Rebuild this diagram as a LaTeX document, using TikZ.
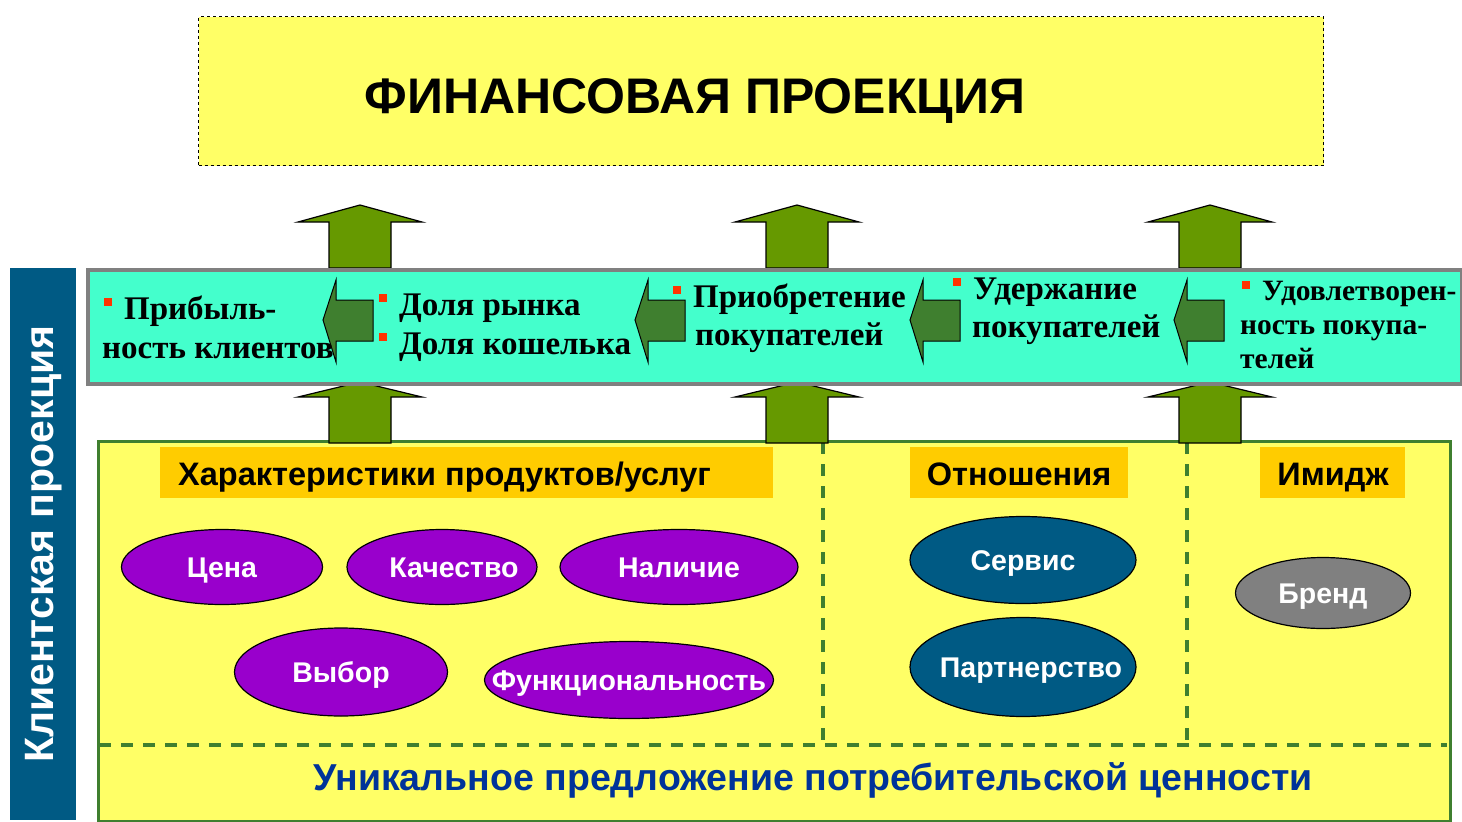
\documentclass[tikz,border=0pt]{standalone}
\usepackage{fontspec}
\setmainfont{Liberation Sans}
\newfontfamily\bandfont{Liberation Serif}
\usepackage{tikz}
\usetikzlibrary{shapes.geometric}

\definecolor{titleyellow}{HTML}{FFFF66}
\definecolor{bandcyan}{HTML}{44FFCC}
\definecolor{bandgrey}{HTML}{808080}
\definecolor{arrowgreen}{HTML}{669900}
\definecolor{darkarrow}{HTML}{3F7F2F}
\definecolor{boxgreen}{HTML}{3F7F2F}
\definecolor{tagorange}{HTML}{FFCC00}
\definecolor{ovalpurple}{HTML}{9900CC}
\definecolor{ovalblue}{HTML}{005A84}
\definecolor{ovalgrey}{HTML}{808080}
\definecolor{barblue}{HTML}{005A84}
\definecolor{valueblue}{HTML}{003399}
\definecolor{bulletred}{HTML}{FF3300}

\newcommand{\blt}{{\color{bulletred}\rule[0.38em]{8pt}{8pt}}\hspace{12pt}}
\newcommand{\ctr}[1]{\makebox[0pt]{#1}}

\begin{document}
\begin{tikzpicture}[x=1pt,y=-1pt,
    uparr/.style={draw=black, line width=1.2pt, fill=arrowgreen},
    leftarr/.style={draw=black, line width=1pt, fill=darkarrow},
    bandtext/.style={anchor=base west, inner sep=0, font=\bandfont\bfseries\fontsize{33}{38}\selectfont},
    smalltext/.style={anchor=base west, inner sep=0, font=\bandfont\bfseries\fontsize{29.5}{34}\selectfont},
    oval/.style={ellipse, draw=black, line width=1.2pt, text=white, inner sep=0, text height=20.5pt, text depth=0pt, font=\bfseries\fontsize{28.5}{30}\selectfont},
    tag/.style={fill=tagorange, inner sep=0, minimum height=51},
    tagtext/.style={anchor=base, inner sep=0, font=\bfseries\fontsize{32.5}{36}\selectfont},
    split/.style={draw=boxgreen, line width=3.5pt, dash pattern=on 12pt off 10pt}
  ]
    \useasboundingbox (0,0) rectangle (1462,822);

    % financial perspective
    \node[draw, dashed, line width=1pt, fill=titleyellow, minimum width=1125, minimum height=149, anchor=north west, inner sep=0] (fin) at (198,16) {};
    \node[anchor=base, inner sep=0, font=\bfseries\fontsize{50}{56}\selectfont] (fintext) at (695,113) {ФИНАНСОВАЯ ПРОЕКЦИЯ};

    % customer perspective bar
    \node[fill=barblue, minimum width=66, minimum height=552, anchor=north west, inner sep=0] (bar) at (10,268) {};
    \node[rotate=90, text=white, font=\bfseries\fontsize{41}{46}\selectfont] (bartext) at (bar.center) {Клиентская проекция};

    % value proposition box
    \node[draw=boxgreen, line width=3pt, fill=titleyellow, minimum width=1352, minimum height=380, anchor=north west, inner sep=0] (vp) at (97,440) {};
    \draw[split] (823,442) -- (823,745);
    \draw[split] (1187,442) -- (1187,745);
    \draw[split] (99,745) -- (1447,745);

    % up arrows
    \foreach \x in {360,797,1210}{
      \draw[uparr] (\x-31,268) -- (\x-31,222) -- (\x-62,222) -- (\x,205) -- (\x+62,222) -- (\x+31,222) -- (\x+31,268) -- cycle;
      \draw[uparr] (\x-31,443) -- (\x-31,397) -- (\x-62,397) -- (\x,382) -- (\x+62,397) -- (\x+31,397) -- (\x+31,443) -- cycle;
    }

    % customer band
    \node[draw=bandgrey, line width=4pt, fill=bandcyan, minimum width=1374, minimum height=114, anchor=north west, inner sep=0] (band) at (86,268) {};

    \foreach \t in {323,635,910,1174}
      \draw[leftarr] (\t,320) -- (\t+13,280) -- (\t+13,300) -- (\t+50,300) -- (\t+50,341) -- (\t+13,341) -- (\t+13,362) -- cycle;

    \node[bandtext] (prof1) at (104,319) {\blt Прибыль-};
    \node[bandtext] (prof2) at (102,358) {ность клиентов};
    \node[bandtext] (share1) at (379,315) {\blt Доля рынка};
    \node[bandtext] (share2) at (379,354) {\blt Доля кошелька};
    \node[bandtext] (acq1) at (673,307) {\blt Приобретение};
    \node[bandtext] (acq2) at (695,345) {покупателей};
    \node[bandtext] (ret1) at (953,299) {\blt Удержание};
    \node[bandtext] (ret2) at (972,337) {покупателей};
    \node[smalltext] (sat1) at (1242,300) {\blt Удовлетворен-};
    \node[smalltext] (sat2) at (1240,334) {ность покупа-};
    \node[smalltext] (sat3) at (1240,368) {телей};

    % attribute headers
    \node[tag, minimum width=613, anchor=north west] (attr) at (160,447) {};
    \node[tag, minimum width=218, anchor=north west] (rel) at (910,447) {};
    \node[tag, minimum width=145, anchor=north west] (img) at (1260,447) {};
    \node[tagtext, anchor=base west] (attrtext) at (178,485) {Характеристики продуктов/услуг};
    \node[tagtext] (reltext) at (1019,485) {Отношения};
    \node[tagtext] (imgtext) at (1333,485) {Имидж};

    % attributes
    \node[oval, fill=ovalpurple, minimum width=201, minimum height=75] (price) at (222,567) {\ctr{Цена}};
    \node[oval, fill=ovalpurple, minimum width=190, minimum height=75] (quality) at (442,567) {\ctr{\hspace{24pt}Качество}};
    \node[oval, fill=ovalpurple, minimum width=238, minimum height=75] (avail) at (679,567) {\ctr{Наличие}};
    \node[oval, fill=ovalpurple, minimum width=213, minimum height=88] (choice) at (341,672) {\ctr{Выбор}};
    \node[oval, fill=ovalpurple, minimum width=289, minimum height=77] (func) at (629,680) {\ctr{Функциональность}};
    \node[oval, fill=ovalblue, minimum width=226, minimum height=87] (serv) at (1023,560) {\ctr{Сервис}};
    \node[oval, fill=ovalblue, minimum width=226, minimum height=99] (part) at (1023,667) {\ctr{\hspace{16pt}Партнерство}};
    \node[oval, fill=ovalgrey, minimum width=175, minimum height=71] (brand) at (1323,593) {\ctr{Бренд}};

    \node[anchor=base, inner sep=0, text=valueblue, font=\bfseries\fontsize{37.5}{42}\selectfont] (uvp) at (813,790) {Уникальное предложение потребительской ценности};
\end{tikzpicture}
\end{document}
